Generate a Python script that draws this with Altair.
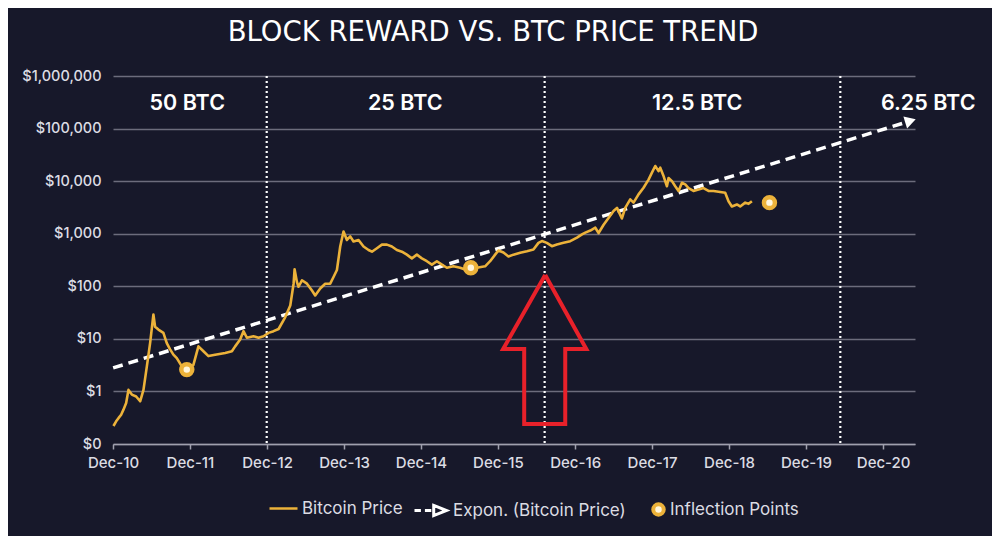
import altair as alt
import pandas as pd
import numpy as np

# ---------------- data ----------------
price_years = [2010.921, 2010.956, 2010.986, 2011.021, 2011.051, 2011.086, 2011.116, 2011.160,
               2011.216, 2011.268, 2011.311, 2011.355, 2011.398, 2011.440, 2011.462, 2011.505,
               2011.570, 2011.614, 2011.657, 2011.700, 2011.744, 2011.809, 2011.874, 2011.960,
               2012.025, 2012.090, 2012.155, 2012.242, 2012.372, 2012.459, 2012.501, 2012.566,
               2012.609, 2012.653, 2012.739, 2012.804, 2012.869, 2012.934, 2012.999, 2013.064,
               2013.151, 2013.216, 2013.259, 2013.272, 2013.303, 2013.323, 2013.368, 2013.433,
               2013.498, 2013.540, 2013.605, 2013.670, 2013.735, 2013.778, 2013.822, 2013.865,
               2013.908, 2013.952, 2013.995, 2014.038, 2014.103, 2014.168, 2014.233, 2014.277,
               2014.342, 2014.407, 2014.472, 2014.536, 2014.601, 2014.666, 2014.731, 2014.796,
               2014.861, 2014.926, 2014.991, 2015.056, 2015.121, 2015.186, 2015.251, 2015.336,
               2015.423, 2015.488, 2015.562, 2015.640, 2015.748, 2015.813, 2015.878, 2015.921,
               2015.986, 2016.051, 2016.116, 2016.203, 2016.290, 2016.375, 2016.440, 2016.485,
               2016.549, 2016.614, 2016.679, 2016.765, 2016.852, 2016.939, 2017.004, 2017.047,
               2017.112, 2017.177, 2017.220, 2017.285, 2017.349, 2017.414, 2017.459, 2017.523,
               2017.566, 2017.631, 2017.674, 2017.739, 2017.804, 2017.869, 2017.913, 2017.956,
               2017.999, 2018.021, 2018.064, 2018.108, 2018.129, 2018.173, 2018.216, 2018.259,
               2018.303, 2018.346, 2018.388, 2018.453, 2018.518, 2018.583, 2018.648, 2018.713,
               2018.800, 2018.865, 2018.908, 2018.952, 2019.017, 2019.060, 2019.125, 2019.168,
               2019.212]
price_values = [0.22, 0.27, 0.31, 0.36, 0.45, 0.6, 1.07, 0.87,
                0.8, 0.65, 1.07, 3.0, 8.5, 29, 17, 15,
                13, 8.3, 6.3, 5.0, 4.3, 3.0, 2.6, 3.2,
                7.2, 5.8, 4.7, 5.0, 5.4, 5.8, 7.2, 9.7,
                14, 10.5, 11.2, 10.5, 11.2, 13, 14, 15.4,
                26, 43, 112, 210, 120, 98, 130, 112,
                83, 67, 91, 112, 112, 150, 204, 570,
                1100, 760, 890, 710, 760, 570, 490, 455,
                530, 620, 620, 570, 490, 455, 400, 340,
                400, 340, 300, 258, 300, 258, 225, 240,
                225, 208, 215, 225, 240, 300, 400, 480,
                440, 370, 400, 435, 465, 500, 670, 725,
                670, 580, 625, 670, 720, 840, 970, 1050,
                1150, 1300, 1030, 1480, 2000, 2700, 3100, 1950,
                3100, 4500, 3900, 5600, 7500, 10700, 14500, 19400,
                15500, 18000, 12500, 8000, 11500, 10000, 8000, 6500,
                9300, 8700, 7400, 6500, 6900, 7400, 6500, 6500,
                6200, 6000, 4150, 3300, 3600, 3300, 3900, 3700,
                4150]

inflection_years = [2011.874, 2015.562, 2019.440]
inflection_values = [2.6, 225, 3900]

trend_years = [2010.917, 2021.27]
trend_values = [2.8, 140000]

halving_years = [2012.91, 2016.52, 2020.36]

reward_labels = ["50 BTC", "25 BTC", "12.5 BTC", "6.25 BTC"]
reward_label_years = [2011.88, 2014.71, 2018.50, 2021.50]
reward_label_value = 293000

arrow_years = [2016.527, 2017.060, 2016.787, 2016.787, 2016.255, 2016.255, 2015.982, 2016.527]
arrow_values = [164, 6.4, 6.4, 0.24, 0.24, 6.4, 6.4, 164]

y_tick_values = [0.1, 1, 10, 100, 1000, 10000, 100000, 1000000]
x_tick_years = list(range(2010, 2021))

legend_labels = ["Bitcoin Price", "Expon. (Bitcoin Price)", "Inflection Points"]
title_text = "BLOCK REWARD VS. BTC PRICE TREND"

# ---------------- styling ----------------
BG = "#17182a"
GOLD = "#ecb23a"
RED = "#e8212a"
LABEL = "#dcdce3"
GRID = "#6c6c7c"
FONT = "Inter"


def to_date(y):
    yr = int(np.floor(y))
    start = pd.Timestamp(yr, 1, 1)
    days = (pd.Timestamp(yr + 1, 1, 1) - start).days
    return start + pd.Timedelta(days=(y - yr) * days)


price_df = pd.DataFrame({"date": [to_date(v) for v in price_years], "price": price_values,
                         "s_price": legend_labels[0]})
trend_df = pd.DataFrame({"date": [to_date(v) for v in trend_years], "price": trend_values,
                         "s_trend": legend_labels[1]})
head_df = trend_df.iloc[[-1]]
infl_df = pd.DataFrame({"date": [to_date(v) for v in inflection_years], "price": inflection_values,
                        "s_infl": legend_labels[2]})
halv_df = pd.DataFrame({"date": [to_date(v) for v in halving_years]})
label_df = pd.DataFrame({"date": [to_date(v) for v in reward_label_years],
                         "price": [reward_label_value] * len(reward_labels), "label": reward_labels})
arrow_df = pd.DataFrame({"date": [to_date(v) for v in arrow_years], "price": arrow_values,
                         "order": list(range(len(arrow_years)))})

x_scale = alt.Scale(domain=[alt.DateTime(year=2010, month=12, date=1),
                            alt.DateTime(year=2021, month=5, date=1)])
y_scale = alt.Scale(type="log", domain=[0.1, 1000000])


def xenc(axis=alt.Undefined):
    return alt.X("date:T", scale=x_scale, axis=axis, title=None)


def yenc(axis=alt.Undefined):
    return alt.Y("price:Q", scale=y_scale, axis=axis, title=None)


x_axis = alt.Axis(values=[alt.DateTime(year=y, month=12, date=1) for y in x_tick_years],
                  format="%b-%y", labelColor=LABEL, labelFontSize=15, labelFont=FONT,
                  labelFontWeight=500, labelPadding=6, tickColor="#a0a0ae", tickSize=5,
                  tickWidth=1.5, domainColor="#a0a0ae", domainWidth=1.5, grid=False,
                  labelFlush=False)
y_axis = alt.Axis(values=y_tick_values,
                  labelExpr="datum.value < 1 ? '$0' : '$' + format(datum.value, ',')",
                  labelColor=LABEL, labelFontSize=14.5, labelFont=FONT, labelFontWeight=500,
                  labelPadding=12, ticks=False, domain=False, grid=True, gridColor=GRID,
                  gridWidth=1.5)

leg_common = dict(orient="none", title=None, labelFontSize=17, labelFont=FONT,
                  labelColor=LABEL, direction="horizontal", labelLimit=400)

grid_layer = alt.Chart(price_df).mark_line(opacity=0).encode(x=xenc(x_axis), y=yenc(y_axis))

halving = alt.Chart(halv_df).mark_rule(color="white", strokeWidth=2.2, strokeDash=[2, 3]).encode(
    x=xenc())

price_line = alt.Chart(price_df).mark_line(strokeWidth=2.6, strokeJoin="round").encode(
    x=xenc(), y=yenc(),
    color=alt.Color("s_price:N", scale=alt.Scale(domain=[legend_labels[0]], range=[GOLD]),
                    legend=alt.Legend(legendX=155, legendY=417, symbolType="stroke",
                                      symbolSize=784, symbolStrokeWidth=2.5, labelOffset=3,
                                      **leg_common)))

trend_line = alt.Chart(trend_df).mark_line(strokeWidth=3.5, strokeDash=[10, 6]).encode(
    x=xenc(), y=yenc(),
    color=alt.Color("s_trend:N", scale=alt.Scale(domain=[legend_labels[1]], range=["white"]),
                    legend=alt.Legend(
                        legendX=300, legendY=417,
                        symbolType="M-1,0H-0.6M-0.35,0H0.05M0.2,-0.32L1,0L0.2,0.32Z",
                        symbolSize=1024, labelOffset=5,
                        symbolStrokeWidth=3,
                        **leg_common)))

trend_head = alt.Chart(head_df).mark_point(shape="triangle-right", filled=True, size=160,
                                          angle=343, color="white", opacity=1).encode(
    x=xenc(), y=yenc())

infl_pts = alt.Chart(infl_df).mark_point(filled=True, size=120, opacity=1, stroke=GOLD,
                                        strokeWidth=4.5).encode(
    x=xenc(), y=yenc(),
    fill=alt.Fill("s_infl:N", scale=alt.Scale(domain=[legend_labels[2]], range=["#fff6dc"]),
                  legend=alt.Legend(legendX=537, legendY=425, symbolType="circle",
                                    symbolSize=110, labelOffset=3,
                                    symbolStrokeColor=GOLD, symbolStrokeWidth=4,
                                    **leg_common)))

labels = alt.Chart(label_df).mark_text(color="white", fontSize=21.5, fontWeight=600, font=FONT,
                                       baseline="middle", align="center").encode(
    x=xenc(), y=yenc(), text="label:N")

arrow = alt.Chart(arrow_df).mark_line(color=RED, strokeWidth=4, strokeJoin="miter").encode(
    x=xenc(), y=yenc(), order="order:Q")

chart = alt.layer(grid_layer, halving, trend_line, price_line, trend_head, infl_pts,
                  labels, arrow).resolve_scale(color="independent", fill="independent").properties(
    width=802, height=368,
    autosize=alt.AutoSizeParams(type="none"),
    padding={"left": 105, "top": 68, "right": 77, "bottom": 92},
    background=BG,
    title=alt.TitleParams(title_text, fontSize=27.5, font="DejaVu Sans", fontWeight="normal",
                          color="white", anchor="middle", offset=22, dx=-21),
).configure_view(stroke=None)

chart.save("out.html", embed_options={"renderer": "svg", "actions": False})
